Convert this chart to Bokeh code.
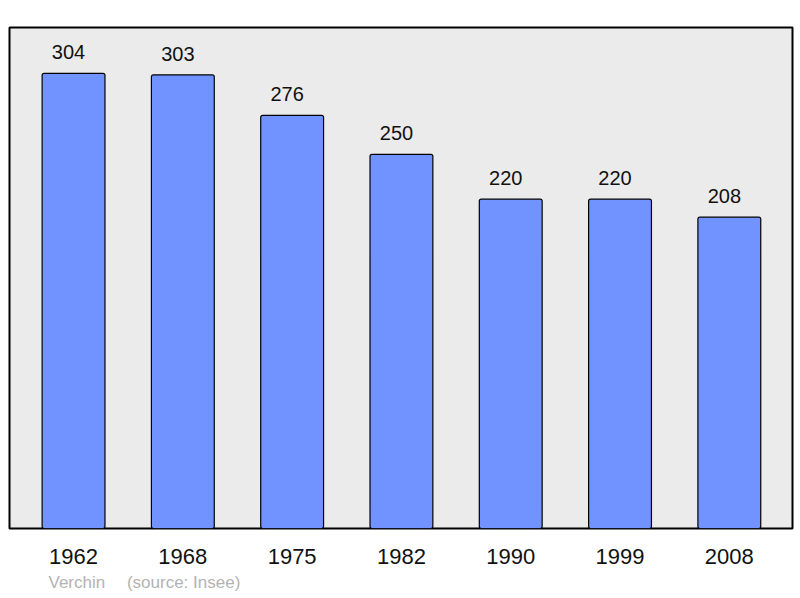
from bokeh.plotting import figure
from bokeh.models import Range1d, FixedTicker, ColumnDataSource, Title
from bokeh.core.properties import value
from bokeh.embed import file_html
from bokeh.resources import INLINE

years = ["1962", "1968", "1975", "1982", "1990", "1999", "2008"]
population = [304, 303, 276, 250, 220, 220, 208]
commune = "Verchin"
source_note = "(source: Insee)"

xs = list(range(len(years)))
src = ColumnDataSource(dict(x=xs, pop=population, lab=[str(v) for v in population]))

p = figure(width=800, height=598, output_backend="svg", toolbar_location=None,
           x_range=Range1d(-0.586, 6.578), y_range=Range1d(0, 334.7),
           min_border_left=9, min_border_right=8, min_border_top=27, min_border_bottom=70)
p.background_fill_color = "#ebebeb"
p.border_fill_color = "white"
p.outline_line_color = "black"
p.outline_line_width = 2
p.xgrid.visible = False
p.ygrid.visible = False
p.yaxis.visible = False

p.vbar(x="x", top="pop", width=0.575, bottom=0, source=src,
       fill_color="#7093ff", line_color="black", line_width=1.2, border_radius=2)
p.text(x="x", y="pop", text="lab", source=src, text_align="center", text_baseline="bottom",
       x_offset=-5, y_offset=-14, text_font=value("Liberation Sans"), text_font_size="20px",
       text_color="#111111")

ax = p.xaxis[0]
ax.ticker = FixedTicker(ticks=xs)
ax.major_label_overrides = {i: y for i, y in zip(xs, years)}
ax.axis_line_color = None
ax.major_tick_line_color = None
ax.minor_tick_line_color = None
ax.major_tick_out = 0
ax.major_tick_in = 0
ax.major_label_standoff = 20
ax.major_label_text_font = "Liberation Sans"
ax.major_label_text_font_size = "22px"
ax.major_label_text_color = "#111111"

p.add_layout(Title(text=commune + "\u2003\u00a0" + source_note, align="left", offset=39,
                   text_font="Liberation Sans", text_font_size="17px", text_font_style="normal",
                   text_color="#b3b3b3", standoff=8), "below")

open("out.html", "w").write(file_html(p, INLINE))
